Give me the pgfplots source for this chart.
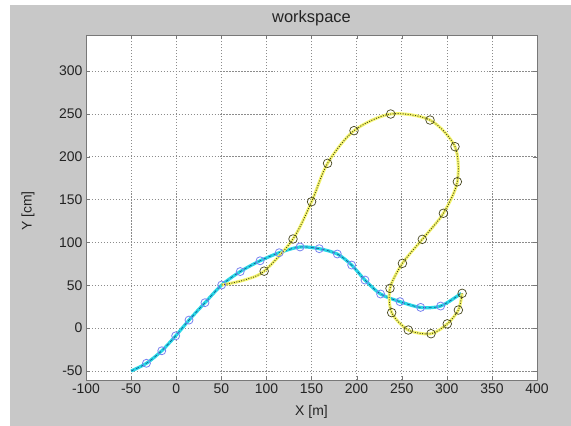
\documentclass[border=0pt]{standalone}
\usepackage{pgfplots}
\pgfplotsset{compat=1.18}
\usepackage{fontspec}
\setmainfont{Liberation Sans}
\definecolor{figgray}{RGB}{200,200,200}
\definecolor{gridgray}{RGB}{140,140,140}
\definecolor{axgray}{RGB}{120,120,120}
\definecolor{txt}{RGB}{35,35,35}
\definecolor{cyanl}{RGB}{40,215,230}
\definecolor{dblue}{RGB}{20,80,140}
\definecolor{mblue}{RGB}{120,130,240}
\definecolor{yell}{RGB}{245,245,110}
\definecolor{dolive}{RGB}{70,70,30}

\pgfplotstableread{
x y
-50 -50
-33 -41
-16 -26.4
-0.6 -9
14.2 9.4
31.9 29.7
50.4 50.3
71 66
93 78.6
114.2 88
137.3 94.7
158.6 92.7
178.6 86.5
194.5 73.6
209.3 56.1
226.6 39.8
248.1 30.9
271 24.2
293.2 25.8
316 40.6
}\bluecurve

\pgfplotstableread{
x y
-33 -41
-16 -26.4
-0.6 -9
14.2 9.4
31.9 29.7
50.4 50.3
71 66
93 78.6
114.2 88
137.3 94.7
158.6 92.7
178.6 86.5
194.5 73.6
209.3 56.1
226.6 39.8
248.1 30.9
271 24.2
293.2 25.8
}\bluemarks

\pgfplotstableread{
x y
50.4 50.3
75 56
97.5 66.5
129.5 104
150.1 147.5
167.8 192.3
197.1 230.4
237.8 249.8
281.4 242.8
309.1 211.7
311.7 170.8
296.2 134
272.8 103.6
250.8 75.6
237 46.4
238.9 18.1
257.3 -2.2
282.5 -6.5
300.5 5
312.8 21.1
317 40.6
}\yellowcurve

\pgfplotstableread{
x y
97.5 66.5
129.5 104
150.1 147.5
167.8 192.3
197.1 230.4
237.8 249.8
281.4 242.8
309.1 211.7
311.7 170.8
296.2 134
272.8 103.6
250.8 75.6
237 46.4
238.9 18.1
257.3 -2.2
282.5 -6.5
300.5 5
312.8 21.1
317 40.6
}\yellowmarks

\begin{document}
\begin{tikzpicture}
\fill[white] (0,0) rectangle (571bp,426bp);
\fill[figgray] (10bp,0) rectangle (571bp,421bp);
\begin{axis}[
  at={(86bp,46bp)}, anchor=south west,
  scale only axis, width=451bp, height=345bp,
  xmin=-100, xmax=400, ymin=-60.5, ymax=342,
  xtick={-100,-50,...,400}, ytick={-50,0,...,300},
  axis background/.style={fill=white},
  axis line style={axgray, line width=0.8pt},
  tick style={axgray},
  tick align=inside, tick pos=both,
  major tick length=4bp,
  grid=major,
  major grid style={gridgray, line width=0.6pt, dash pattern=on 1.2pt off 1.8pt},
  font=\fontsize{14}{16}\selectfont\color{txt},
  /pgf/number format/assume math mode=true,
  ticklabel style={font=\fontsize{14}{16}\selectfont\color{txt}},
  every axis title shift=0pt,
  title={workspace},
  title style={at={(axis description cs:0.5,1.0493)}, anchor=center, font=\fontsize{16.5}{18}\selectfont\color{txt}},
  xlabel={X [m]},
  xlabel style={at={(axis description cs:0.5,-0.0928)}, anchor=center},
  ylabel={Y [cm]},
  ylabel style={at={(axis description cs:-0.1286,0.49)}, anchor=center},
]
\addplot[cyanl, line width=3.2pt, smooth, no markers] table {\bluecurve};
\addplot[dblue, line width=0.6pt, dash pattern=on 3pt off 2.5pt, smooth, no markers] table {\bluecurve};
\addplot[mblue, only marks, mark=o, mark size=4bp, mark options={line width=0.8pt}] table {\bluemarks};
\addplot[yell, line width=3pt, smooth, no markers] table {\yellowcurve};
\addplot[dolive, line width=0.9pt, dash pattern=on 1pt off 1.5pt, smooth, no markers] table {\yellowcurve};
\addplot[dolive, only marks, mark=o, mark size=4.3bp, mark options={line width=0.7pt}] table {\yellowmarks};
\end{axis}
\end{tikzpicture}
\end{document}
